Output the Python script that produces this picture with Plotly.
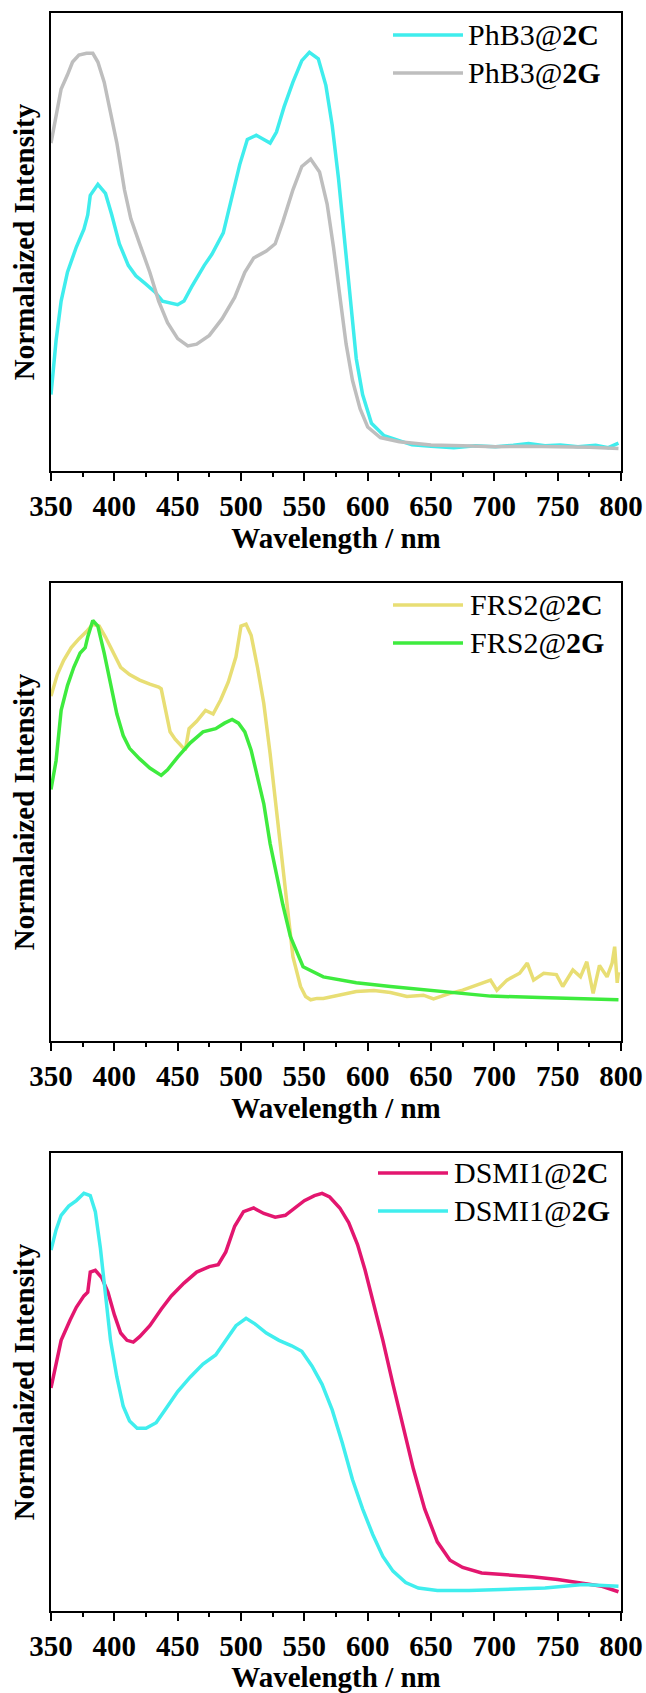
import plotly.graph_objects as go

# ---------------- data ----------------
# Panel 1
phb3_2c_wl = [350, 354, 358, 363, 370, 376, 379, 381, 387, 393, 398, 404, 411, 417, 424, 432, 438, 444, 450, 455,
              461, 471, 477, 486, 492, 499, 505, 512, 518, 523, 528, 534, 541, 548, 554, 561, 567, 572, 577, 582,
              587, 591, 596, 603, 613, 626, 635, 650, 668, 685, 701, 715, 727, 740, 752, 766, 780, 790, 798]
phb3_2c_y = [0.167, 0.285, 0.371, 0.434, 0.489, 0.528, 0.559, 0.602, 0.626, 0.606, 0.559, 0.496, 0.449, 0.426,
             0.410, 0.391, 0.371, 0.366, 0.363, 0.371, 0.402, 0.449, 0.473, 0.520, 0.591, 0.669, 0.724, 0.733,
             0.724, 0.716, 0.740, 0.795, 0.849, 0.896, 0.914, 0.900, 0.842, 0.755, 0.638, 0.496, 0.355, 0.245,
             0.167, 0.104, 0.077, 0.065, 0.057, 0.054, 0.051, 0.055, 0.053, 0.056, 0.060, 0.055, 0.057, 0.053,
             0.056, 0.051, 0.061]

phb3_2g_wl = [350, 354, 358, 363, 367, 372, 378, 383, 387, 392, 396, 402, 408, 413, 420, 428, 435, 442, 450, 458,
              465, 475, 485, 495, 503, 510, 520, 527, 533, 541, 548, 555, 562, 568, 573, 578, 583, 588, 594, 600,
              610, 625, 650, 675, 700, 725, 750, 775, 798]
phb3_2g_y = [0.716, 0.779, 0.834, 0.865, 0.893, 0.908, 0.912, 0.912, 0.893, 0.849, 0.795, 0.716, 0.614, 0.551,
             0.496, 0.434, 0.371, 0.324, 0.289, 0.273, 0.277, 0.296, 0.332, 0.379, 0.434, 0.465, 0.480, 0.496,
             0.544, 0.614, 0.665, 0.681, 0.653, 0.583, 0.489, 0.379, 0.277, 0.198, 0.136, 0.096, 0.073, 0.064,
             0.057, 0.055, 0.053, 0.054, 0.053, 0.052, 0.049]

# Panel 2
frs2_2c_wl = [350, 355, 360, 366, 372, 378, 383, 388, 393, 399, 405, 412, 420, 428, 435, 437, 440, 444, 448, 452,
              456, 459, 465, 472, 478, 484, 490, 496, 500, 504, 508, 513, 518, 523, 528, 533, 538, 541, 547, 551,
              555, 560, 565, 578, 591, 605, 618, 631, 644, 652, 665, 675, 686, 697, 702, 710, 720, 726, 731, 739,
              749, 754, 762, 768, 773, 778, 783, 789, 793, 795, 797, 798]
frs2_2c_y = [0.753, 0.800, 0.831, 0.859, 0.878, 0.894, 0.910, 0.906, 0.882, 0.847, 0.816, 0.800, 0.788, 0.779,
             0.773, 0.769, 0.729, 0.675, 0.659, 0.647, 0.635, 0.682, 0.698, 0.722, 0.714, 0.745, 0.784, 0.839,
             0.906, 0.910, 0.886, 0.816, 0.737, 0.627, 0.502, 0.369, 0.259, 0.184, 0.119, 0.097, 0.090, 0.093,
             0.093, 0.100, 0.108, 0.110, 0.106, 0.097, 0.100, 0.092, 0.104, 0.111, 0.122, 0.133, 0.111, 0.133,
             0.148, 0.170, 0.133, 0.148, 0.145, 0.119, 0.155, 0.140, 0.173, 0.104, 0.165, 0.140, 0.170, 0.206,
             0.127, 0.150]

frs2_2g_wl = [350, 354, 358, 363, 368, 373, 377, 379, 383, 387, 392, 397, 402, 407, 412, 420, 428, 437, 442, 450,
              460, 470, 480, 487, 493, 498, 503, 508, 513, 518, 523, 528, 533, 539, 549, 565, 591, 618, 657, 697,
              736, 776, 798]
frs2_2g_y = [0.549, 0.612, 0.722, 0.776, 0.816, 0.847, 0.859, 0.882, 0.918, 0.906, 0.847, 0.776, 0.714, 0.667,
             0.639, 0.616, 0.596, 0.580, 0.592, 0.620, 0.651, 0.675, 0.682, 0.694, 0.702, 0.694, 0.675, 0.635,
             0.580, 0.518, 0.431, 0.361, 0.298, 0.228, 0.162, 0.140, 0.127, 0.119, 0.108, 0.098, 0.095, 0.091,
             0.090]

# Panel 3
dsmi1_2c_wl = [350, 354, 358, 365, 370, 376, 379, 381, 385, 390, 395, 400, 405, 410, 415, 420, 428, 437, 445, 455,
               465, 475, 482, 488, 495, 502, 510, 518, 527, 535, 542, 550, 558, 564, 570, 578, 585, 592, 598, 605,
               612, 620, 628, 636, 645, 655, 665, 675, 690, 710, 730, 750, 770, 785, 798]
dsmi1_2c_y = [0.487, 0.543, 0.591, 0.635, 0.663, 0.688, 0.696, 0.740, 0.744, 0.728, 0.696, 0.647, 0.607, 0.591,
              0.587, 0.599, 0.623, 0.659, 0.688, 0.716, 0.740, 0.752, 0.756, 0.784, 0.840, 0.872, 0.880, 0.868,
              0.860, 0.864, 0.880, 0.896, 0.907, 0.912, 0.904, 0.880, 0.848, 0.800, 0.744, 0.671, 0.591, 0.495,
              0.399, 0.311, 0.223, 0.151, 0.111, 0.095, 0.083, 0.079, 0.075, 0.069, 0.061, 0.054, 0.042]

dsmi1_2g_wl = [350, 354, 358, 364, 370, 376, 381, 385, 389, 393, 397, 402, 407, 412, 418, 425, 433, 440, 450, 460,
               470, 480, 488, 496, 504, 511, 520, 530, 540, 548, 556, 564, 572, 580, 588, 596, 604, 612, 620, 630,
               640, 655, 680, 710, 740, 770, 798]
dsmi1_2g_y = [0.788, 0.832, 0.864, 0.884, 0.896, 0.912, 0.907, 0.872, 0.792, 0.696, 0.591, 0.511, 0.447, 0.415,
              0.399, 0.399, 0.411, 0.439, 0.479, 0.511, 0.539, 0.559, 0.591, 0.623, 0.639, 0.627, 0.607, 0.591,
              0.579, 0.567, 0.535, 0.495, 0.439, 0.367, 0.287, 0.223, 0.167, 0.119, 0.087, 0.062, 0.050, 0.045,
              0.045, 0.048, 0.050, 0.058, 0.054]

x_ticks = [350, 400, 450, 500, 550, 600, 650, 700, 750, 800]
x_title = "Wavelength / nm"
y_title = "Normalaized Intensity"

panels = [
    [("PhB3@<b>2C</b>", phb3_2c_wl, phb3_2c_y, "#3FEDED"),
     ("PhB3@<b>2G</b>", phb3_2g_wl, phb3_2g_y, "#BEBEBE")],
    [("FRS2@<b>2C</b>", frs2_2c_wl, frs2_2c_y, "#E8DE74"),
     ("FRS2@<b>2G</b>", frs2_2g_wl, frs2_2g_y, "#3EEB3E")],
    [("DSMI1@<b>2C</b>", dsmi1_2c_wl, dsmi1_2c_y, "#E3166F"),
     ("DSMI1@<b>2G</b>", dsmi1_2g_wl, dsmi1_2g_y, "#40EEEE")],
]

# ---------------- layout geometry (pixels) ----------------
W, H = 646, 1693
ML, MR, MT, MB = 51, 25, 13, 82
PW = W - ML - MR
PH_TOTAL = H - MT - MB
panel_tops = [13, 583, 1153]
panel_h = 458
legend_geo = [  # line x0, line x1, text x, row1 y, row2 y
    (393, 463, 466, 35, 73),
    (393, 463, 468, 605, 643),
    (378, 448, 452, 1173, 1211),
]

def px_x(px):
    return (px - ML) / PW

def px_y(py):
    return min(1.0, max(0.0, (H - MB - py) / PH_TOTAL))

FONT = "Liberation Serif"

fig = go.Figure()
shapes = []
annotations = []
for i, series in enumerate(panels):
    n = i + 1
    xa = "x" if n == 1 else f"x{n}"
    ya = "y" if n == 1 else f"y{n}"
    for name, wl, yv, col in series:
        fig.add_trace(go.Scatter(x=wl, y=yv, mode="lines", name=name,
                                 line=dict(color=col, width=3.5),
                                 xaxis=xa, yaxis=ya, showlegend=False))
    top = panel_tops[i]
    dom = [px_y(top + panel_h), px_y(top)]
    xkey = "xaxis" if n == 1 else f"xaxis{n}"
    ykey = "yaxis" if n == 1 else f"yaxis{n}"
    fig.layout[xkey] = dict(
        domain=[0, 1], anchor=ya, range=[350, 800], tickvals=x_ticks,
        ticks="outside", ticklen=8, tickwidth=2, tickcolor="black",
        minor=dict(ticks="outside", ticklen=4, tickwidth=2, dtick=25, tick0=350, tickcolor="black"),
        showline=True, linewidth=2, linecolor="black", mirror=True,
        showgrid=False, zeroline=False,
        tickfont=dict(family=FONT, size=29, color="black", weight="bold"),
        title=dict(text=x_title, font=dict(family=FONT, size=29, color="black", weight="bold"), standoff=5),
        automargin=False,
    )
    fig.layout[ykey] = dict(
        domain=dom, anchor=xa, range=[0, 1],
        showline=True, linewidth=2, linecolor="black", mirror=True,
        showgrid=False, zeroline=False, showticklabels=False, ticks="",
        title=dict(text=y_title, font=dict(family=FONT, size=29, color="black", weight="bold"), standoff=6),
        automargin=False,
    )
    lx0, lx1, tx, r1, r2 = legend_geo[i]
    for (name, wl, yv, col), ry in zip(series, [r1, r2]):
        shapes.append(dict(type="line", xref="paper", yref="paper",
                           x0=px_x(lx0), x1=px_x(lx1), y0=px_y(ry), y1=px_y(ry),
                           line=dict(color=col, width=3.5)))
        annotations.append(dict(xref="paper", yref="paper", x=px_x(tx), y=px_y(ry),
                                xanchor="left", yanchor="middle", showarrow=False,
                                text=name, font=dict(family=FONT, size=30, color="black")))

fig.update_layout(
    width=W, height=H,
    margin=dict(l=ML, r=MR, t=MT, b=MB),
    paper_bgcolor="white", plot_bgcolor="white",
    shapes=shapes, annotations=annotations,
    showlegend=False,
)

fig.write_html("out.html")
